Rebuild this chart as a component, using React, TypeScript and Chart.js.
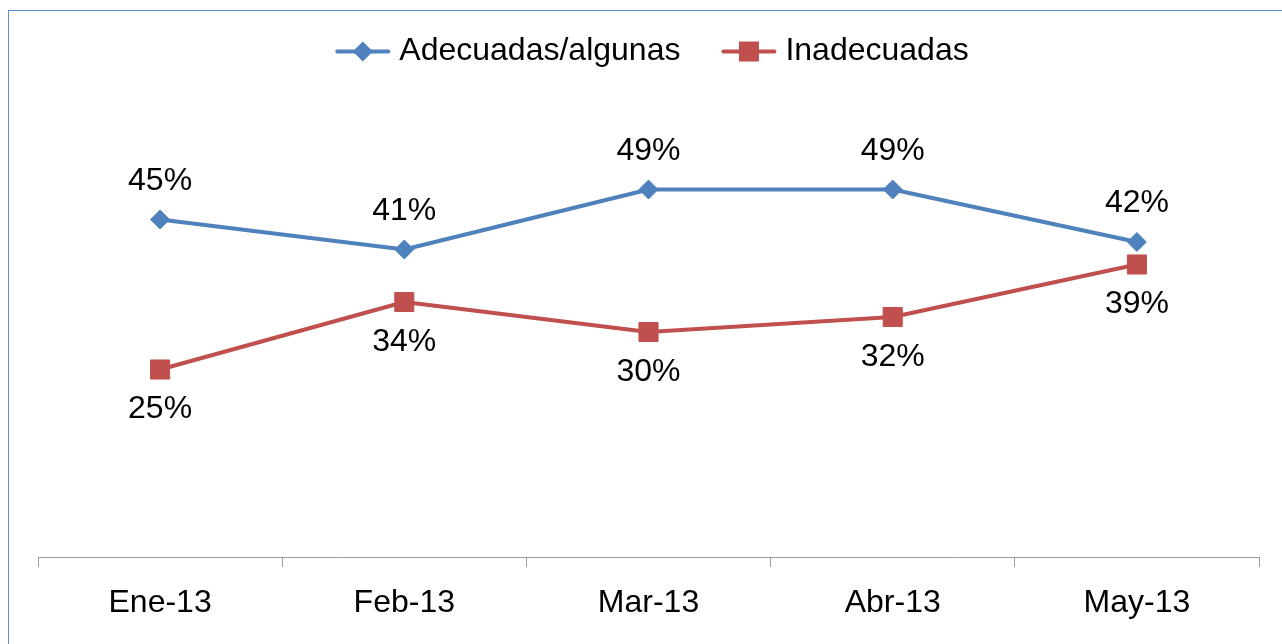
import React, { useEffect, useRef } from 'react';
import { Chart, registerables } from 'chart.js';

Chart.register(...registerables);

const categories = ['Ene-13', 'Feb-13', 'Mar-13', 'Abr-13', 'May-13'];
const seriesNames = ['Adecuadas/algunas', 'Inadecuadas'];
const adecuadas = [45, 41, 49, 49, 42];
const inadecuadas = [25, 34, 30, 32, 39];
const yMin = 0;
const yMax = 60;

const BLUE = '#4F81BD';
const RED = '#C0504D';
const AXIS = '#9A9A9A';
const FRAME = '#5B8DD3';
const FONT = '"Liberation Sans", Arial, sans-serif';
const W = 1282;
const H = 644;

const labelPlugin = {
  id: 'pctLabels',
  afterDatasetsDraw(chart: any) {
    const ctx = chart.ctx;
    ctx.save();
    ctx.font = `32px ${FONT}`;
    ctx.fillStyle = '#000';
    ctx.textAlign = 'center';
    ctx.textBaseline = 'middle';
    chart.data.datasets.forEach((ds: any, i: number) => {
      const meta = chart.getDatasetMeta(i);
      const above = i === 0;
      meta.data.forEach((pt: any, j: number) => {
        const v = ds.data[j];
        ctx.fillText(`${v}%`, pt.x, pt.y + (above ? -38.5 : 40));
      });
    });
    ctx.restore();
  },
};

const legendPlugin = {
  id: 'lineLegend',
  afterDraw(chart: any) {
    const ctx = chart.ctx;
    ctx.save();
    ctx.font = `32px ${FONT}`;
    const lineW = 55;
    const gap = 9;
    const itemGap = 41;
    const items = chart.data.datasets.map((ds: any) => ({
      text: ds.label,
      color: ds.borderColor,
      style: ds.pointStyle,
      w: lineW + gap + ctx.measureText(ds.label).width,
    }));
    const total =
      items.reduce((s: number, it: any) => s + it.w, 0) + itemGap * (items.length - 1);
    let x = 652 - total / 2;
    const y = 51.5;
    items.forEach((it: any) => {
      ctx.strokeStyle = it.color;
      ctx.fillStyle = it.color;
      ctx.lineWidth = 4;
      ctx.lineCap = 'round';
      ctx.beginPath();
      ctx.moveTo(x + 2, y);
      ctx.lineTo(x + lineW - 2, y);
      ctx.stroke();
      const cx = x + lineW / 2;
      ctx.beginPath();
      if (it.style === 'rectRot') {
        ctx.moveTo(cx - 10, y);
        ctx.lineTo(cx, y - 10);
        ctx.lineTo(cx + 10, y);
        ctx.lineTo(cx, y + 10);
        ctx.closePath();
      } else {
        ctx.rect(cx - 10, y - 10, 20, 20);
      }
      ctx.fill();
      ctx.fillStyle = '#000';
      ctx.textAlign = 'left';
      ctx.textBaseline = 'middle';
      ctx.fillText(it.text, x + lineW + gap, y);
      x += it.w + itemGap;
    });
    ctx.restore();
  },
};

export default function App() {
  const canvasRef = useRef<HTMLCanvasElement | null>(null);

  useEffect(() => {
    const canvas = canvasRef.current;
    if (!canvas) return;
    const chart = new Chart(canvas, {
      type: 'line',
      data: {
        labels: categories,
        datasets: [
          {
            label: seriesNames[0],
            data: adecuadas,
            borderColor: BLUE,
            backgroundColor: BLUE,
            borderWidth: 4,
            borderJoinStyle: 'round',
            pointStyle: 'rectRot',
            pointRadius: 9.5,
            pointBorderWidth: 1,
            pointBackgroundColor: BLUE,
            pointBorderColor: BLUE,
            tension: 0,
          },
          {
            label: seriesNames[1],
            data: inadecuadas,
            borderColor: RED,
            backgroundColor: RED,
            borderWidth: 4,
            borderJoinStyle: 'round',
            pointStyle: 'rect',
            pointRadius: 13.5,
            pointBorderWidth: 1,
            pointBackgroundColor: RED,
            pointBorderColor: RED,
            tension: 0,
          },
        ],
      },
      options: {
        responsive: false,
        animation: false,
        devicePixelRatio: 1,
        layout: { padding: { top: 107, left: 38, right: 23, bottom: 0 } },
        plugins: {
          legend: { display: false },
          tooltip: { enabled: false },
        },
        scales: {
          x: {
            type: 'category',
            offset: true,
            afterFit: (scale: any) => {
              scale.height = H - 557;
            },
            grid: {
              display: true,
              offset: true,
              drawOnChartArea: false,
              drawTicks: true,
              tickLength: 10,
              color: AXIS,
              lineWidth: 1,
            },
            border: { display: true, color: AXIS, width: 1 },
            ticks: {
              color: '#000',
              padding: 17,
              maxRotation: 0,
              autoSkip: false,
              font: { family: FONT, size: 32 },
            },
          },
          y: {
            display: false,
            min: yMin,
            max: yMax,
          },
        },
      },
      plugins: [labelPlugin, legendPlugin],
    });
    return () => chart.destroy();
  }, []);

  return (
    <div
      style={{
        position: 'fixed',
        left: 0,
        top: 0,
        width: W,
        height: H,
        overflow: 'hidden',
        background: '#fff',
      }}
    >
      <div
        style={{
          position: 'absolute',
          left: 8,
          top: 10,
          width: 1320,
          height: 700,
          border: `1px solid ${FRAME}`,
        }}
      />
      <canvas
        ref={canvasRef}
        width={W}
        height={H}
        style={{ position: 'absolute', left: 0, top: 0, width: W, height: H }}
      />
    </div>
  );
}
